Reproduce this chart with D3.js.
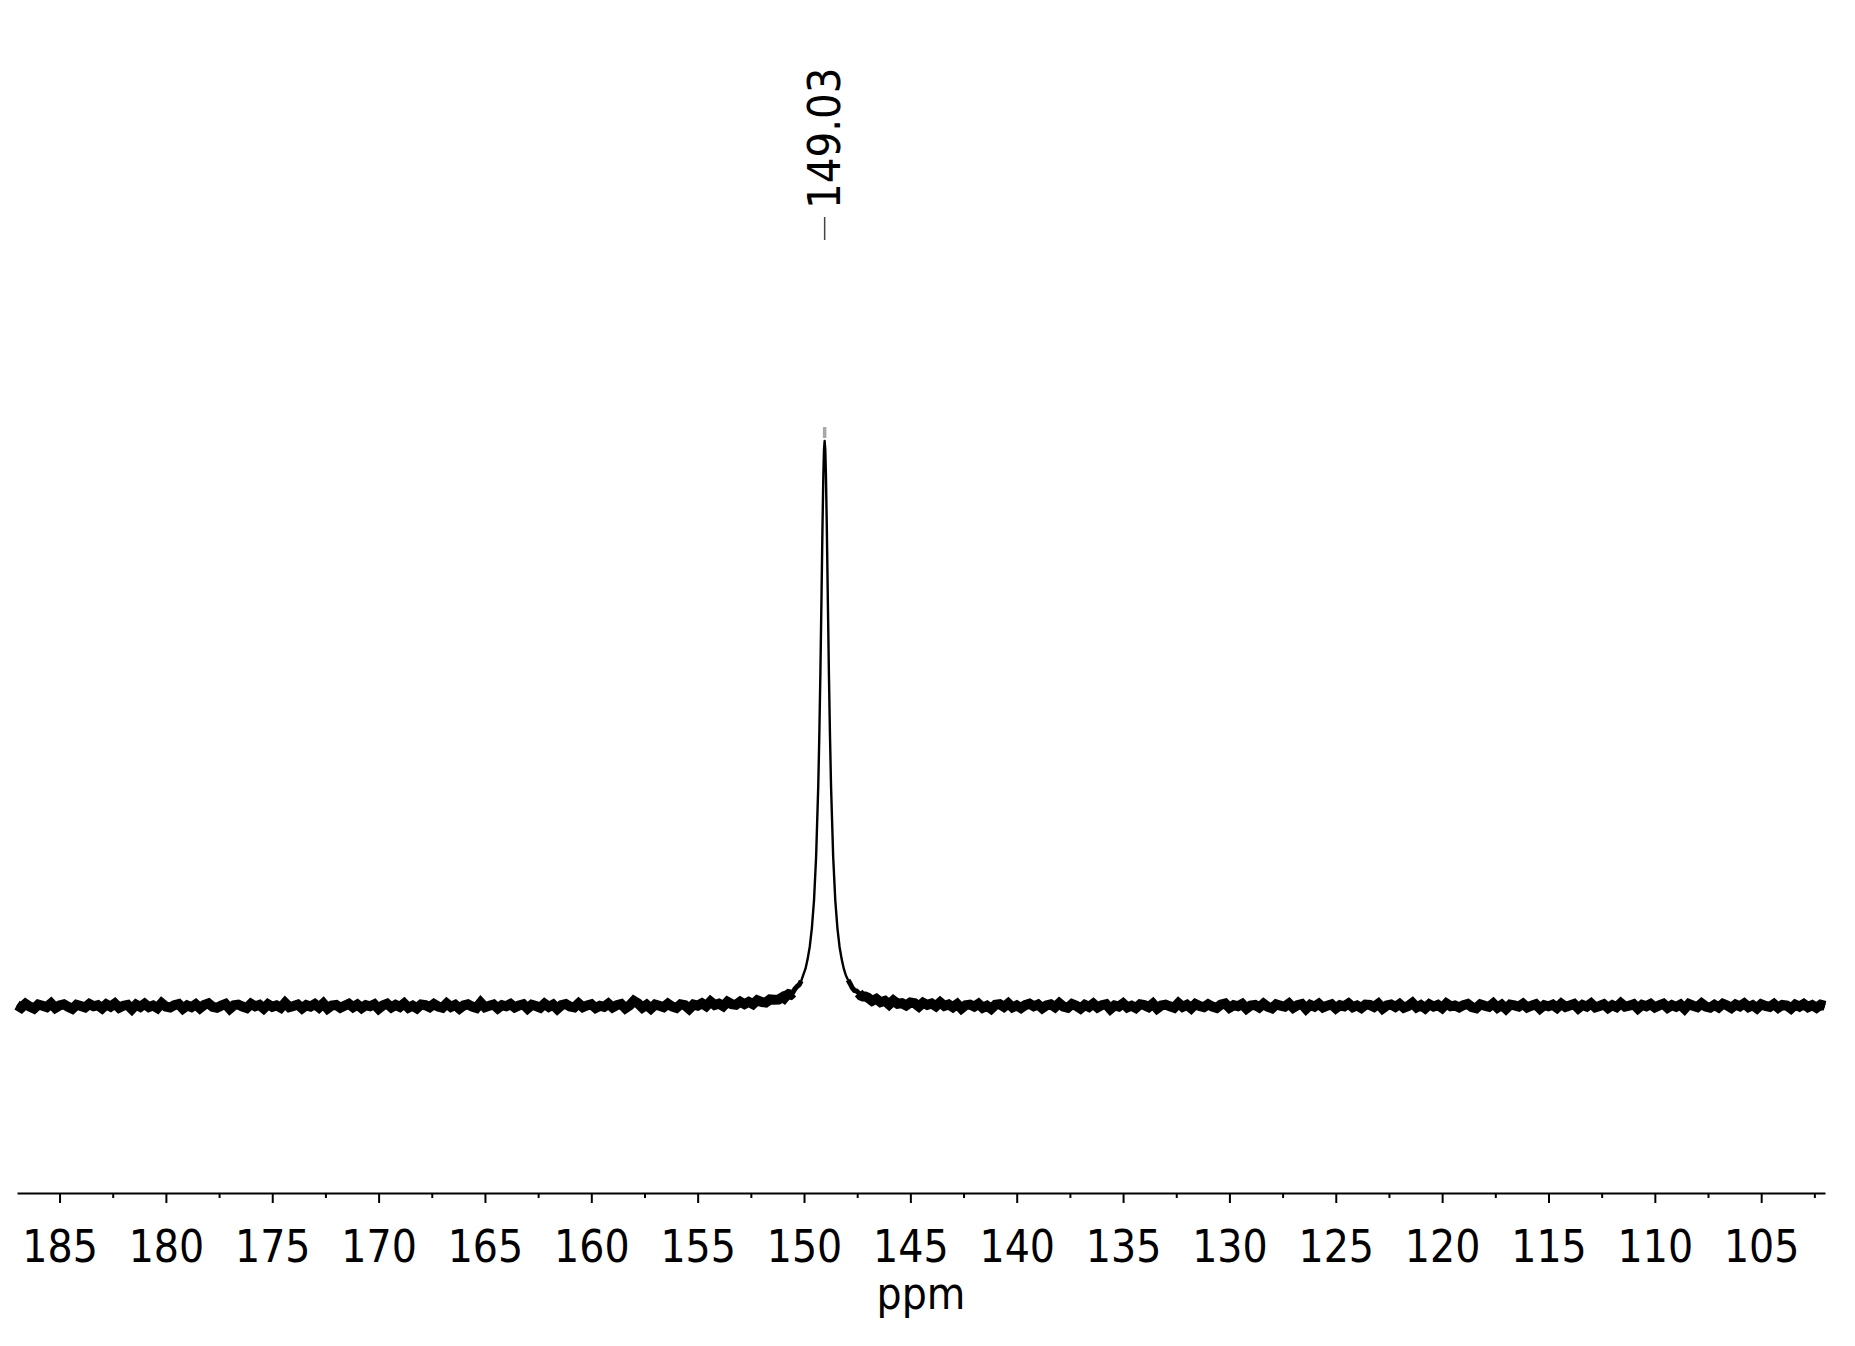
<!DOCTYPE html>
<html><head><meta charset="utf-8">
<script src="https://cdn.jsdelivr.net/npm/d3@7"></script>
<style>html,body{margin:0;padding:0;background:#fff}svg{display:block}</style>
</head><body>
<svg id="c" width="1855" height="1346"></svg>
<script>
// ---- data (intensity in arbitrary units, peak = 100) ----
const leftStart = 187.0;   // ppm of first left-baseline sample
const rightStart = 147.0;  // ppm of first right-baseline sample
const gridStep = 0.2;      // ppm spacing of baseline samples

const leftBaseline = [
0.15,-0.3,0.4,-0.1,-0.45,0.25,0.05,-0.2,0.45,-0.35,0.1,0.3,-0.15,-0.5,0.2,0,-0.25,0.35,-0.05,0.15,
-0.4,0.3,-0.1,0.45,-0.3,0.05,0.2,-0.55,0.25,-0.15,0.4,-0.2,0.1,-0.35,0.5,-0.1,-0.25,0.15,0.35,-0.45,
0.1,-0.2,0.3,-0.4,0.2,0.45,-0.15,-0.3,0.05,0.35,-0.5,0.15,0.25,-0.1,-0.35,0.4,-0.05,0.2,-0.45,0.3,
-0.15,0.1,-0.3,0.55,-0.2,0,0.25,-0.4,0.15,-0.1,0.35,-0.25,0.45,-0.45,0.1,0.2,-0.3,0.05,0.4,-0.2,
0.25,-0.35,0.15,-0.05,0.3,-0.5,0.1,0.4,-0.25,0.2,-0.15,0.45,-0.3,0.05,-0.4,0.25,0.15,-0.2,0.35,-0.1,
-0.3,0.45,-0.15,0.2,-0.45,0.1,0.3,-0.1,-0.35,0.6,-0.2,0.05,0.25,-0.4,0.15,-0.05,0.35,-0.25,0.1,0.3,
-0.45,0.2,0,-0.3,0.4,-0.15,0.25,-0.5,0.15,0.35,-0.1,-0.25,0.45,-0.2,0.1,0.3,-0.35,0.05,-0.15,0.4,
-0.25,0.15,0.35,-0.4,0.1,0.9,0.45,-0.3,0.2,-0.45,0.25,0.05,-0.2,0.4,-0.1,-0.35,0.3,0.15,-0.5,0.25,
0.06,0.48,-0.01,0.8,0.18,0.4,-0.03,0.75,0.33,0.21,0.75,0.34,0.73,0.33,1.0,0.71,0.6,1.16,1.1,1.15,
1.6
];

const peakPpm = [
150.93,150.83,150.73,150.63,150.53,150.43,150.33,150.23,150.13,150.03,
149.93,149.83,149.73,149.63,149.53,149.43,149.33,149.28,149.23,149.18,
149.13,149.09,149.06,149.03,149.00,148.97,148.93,148.88,148.83,148.78,
148.73,148.63,148.53,148.43,148.33,148.23,148.13,148.03,147.93,147.83,
147.73,147.63,147.53,147.43,147.33,147.23,147.13
];
const peakValues = [
1.4,1.85,2.1,2.0,2.35,3.0,3.45,3.75,4.45,5.55,
6.6,8.3,10.5,13.8,18.7,26.5,39.0,48.0,59.0,71.9,
85.2,94.1,98.5,100,98.5,94.1,85.2,71.9,59.0,48.0,
39.0,26.5,18.7,13.8,10.5,8.3,6.6,5.4,4.6,3.95,
3.2,2.75,2.65,2.3,1.85,1.7,1.7
];

const rightBaseline = [
1.48,0.9,1.27,0.68,0.92,0.27,0.96,0.4,0.49,0.1,0.61,0.48,-0.1,0.57,0.2,0.43,-0.04,0.65,0.03,0.27,
-0.2,0.35,-0.45,0.15,0.25,-0.1,0.4,-0.3,0.05,-0.5,0.2,0.3,-0.15,0.45,-0.25,0.1,-0.35,0.15,0.4,-0.05,
0.25,-0.4,0.1,0.3,-0.2,0.5,-0.1,-0.3,0.35,0.05,-0.45,0.2,-0.15,0.4,-0.25,0.15,0.3,-0.55,0.1,-0.1,
0.45,-0.25,0.05,-0.35,0.3,0.15,-0.2,0.4,-0.45,0.1,0.25,-0.05,-0.3,0.5,-0.15,0.2,-0.4,0.35,0,-0.2,
0.3,-0.1,-0.35,0.25,0.45,-0.3,0.15,-0.05,0.35,-0.45,0.1,0.2,-0.25,0.4,-0.15,-0.4,0.3,0.05,-0.1,0.45,
-0.3,0.15,0.35,-0.5,0.2,-0.1,0.4,-0.25,0.05,0.3,-0.4,0.15,-0.05,0.45,-0.2,0.1,-0.35,0.25,0.2,-0.15,
0.4,-0.45,0.1,0.25,-0.15,0.35,-0.3,0,0.55,-0.25,0.15,-0.4,0.3,-0.1,0.2,-0.35,0.45,-0.05,0.1,-0.25,
0.15,0.35,-0.2,-0.4,0.3,0.05,-0.15,0.45,-0.3,0.2,-0.5,0.25,0.1,-0.1,0.4,-0.25,0.05,0.3,-0.45,0.15,
-0.05,0.25,-0.3,0.4,-0.15,0.1,0.35,-0.4,0.2,-0.1,0.45,-0.25,0,0.3,-0.35,0.15,-0.2,0.5,-0.1,0.05,
0.3,-0.45,0.2,-0.05,0.35,-0.25,0.1,0.4,-0.3,0.15,-0.15,0.25,-0.5,0.35,0.05,-0.2,0.45,-0.1,-0.3,0.2,
-0.25,0.4,0.1,-0.35,0.25,-0.05,0.45,-0.2,0.15,-0.4,0.3,0,-0.15,0.35,-0.3,0.2,0.1,-0.45,0.25,-0.1,
0.35,-0.2,0.15,-0.3,0.25,0.05
];

const majorTicks = [185,180,175,170,165,160,155,150,145,140,135,130,125,120,115,110,105];
const minorTicks = [182.5,177.5,172.5,167.5,162.5,157.5,152.5,147.5,142.5,137.5,132.5,127.5,122.5,117.5,112.5,107.5,102.5];
const peakLabel = "149.03";
const peakPosition = 149.03;
const peakMax = 100;
const axisTitle = "ppm";

// ---- drawing ----
const FONT = "'DejaVu Sans Condensed','DejaVu Sans',sans-serif";
const svg = d3.select("#c");
const x = d3.scaleLinear().domain([187, 102]).range([17, 1825]);
const y = d3.scaleLinear().domain([0, 100]).range([1006, 441]);

const pts = [];
leftBaseline.forEach((v, i) => pts.push([leftStart - i * gridStep, v]));
peakPpm.forEach((p, i) => pts.push([p, peakValues[i]]));
rightBaseline.forEach((v, i) => pts.push([rightStart - i * gridStep, v]));

// thin trace (whole spectrum)
const line = d3.line().x(d => x(d[0])).y(d => y(d[1]));
svg.append("path").datum(pts)
  .attr("d", line).attr("fill", "none")
  .attr("stroke", "#000").attr("stroke-width", 2.4)
  .attr("stroke-linejoin", "round");

// noisy baseline band: same data, low-intensity parts drawn heavier (noise fuzz)
[[5, 5], [2.6, 10]].forEach(([lim, w]) => {
  const lowLine = d3.line().defined(d => d[1] < lim).x(d => x(d[0])).y(d => y(d[1]));
  svg.append("path").datum(pts)
    .attr("d", lowLine).attr("fill", "none")
    .attr("stroke", "#000").attr("stroke-width", w)
    .attr("stroke-linejoin", "miter").attr("stroke-linecap", "butt");
});

// gray top marker
const px = x(peakPosition);
svg.append("line")
  .attr("x1", px).attr("x2", px)
  .attr("y1", y(peakMax) - 14).attr("y2", y(peakMax) - 3)
  .attr("stroke", "#a8a8a8").attr("stroke-width", 3.5);

// peak label + tick
svg.append("line")
  .attr("x1", px).attr("x2", px).attr("y1", 217).attr("y2", 240)
  .attr("stroke", "#444").attr("stroke-width", 1.5);
svg.append("text")
  .attr("x", px).attr("y", 209)
  .attr("transform", `rotate(-90,${px},209)`)
  .attr("dy", "0.35em")
  .attr("text-anchor", "start")
  .attr("font-family", FONT).attr("font-stretch", "condensed").attr("font-size", 45)
  .attr("fill", "#000")
  .text(peakLabel);

// axis
const gMinor = svg.append("g").attr("transform", "translate(0,1193)")
  .call(d3.axisBottom(x).tickValues(minorTicks).tickSize(5).tickSizeOuter(0).tickFormat(""));
gMinor.select(".domain").remove();
gMinor.selectAll(".tick line").attr("stroke", "#000").attr("stroke-width", 2);

const gAxis = svg.append("g").attr("transform", "translate(0,1193)")
  .call(d3.axisBottom(x).tickValues(majorTicks).tickSize(10).tickSizeOuter(0).tickFormat(d3.format("d")));
gAxis.select(".domain").attr("stroke", "#000").attr("stroke-width", 2);
gAxis.selectAll(".tick line").attr("stroke", "#000").attr("stroke-width", 2);
gAxis.selectAll(".tick text")
  .attr("y", 69).attr("dy", 0)
  .attr("font-family", FONT).attr("font-stretch", "condensed").attr("font-size", 44)
  .attr("fill", "#000");
gAxis.attr("font-family", null).attr("font-size", null);

svg.append("text")
  .attr("x", (x.range()[0] + x.range()[1]) / 2).attr("y", 1309)
  .attr("text-anchor", "middle")
  .attr("font-family", FONT).attr("font-stretch", "condensed").attr("font-size", 44)
  .attr("fill", "#000")
  .text(axisTitle);
</script>
</body></html>
